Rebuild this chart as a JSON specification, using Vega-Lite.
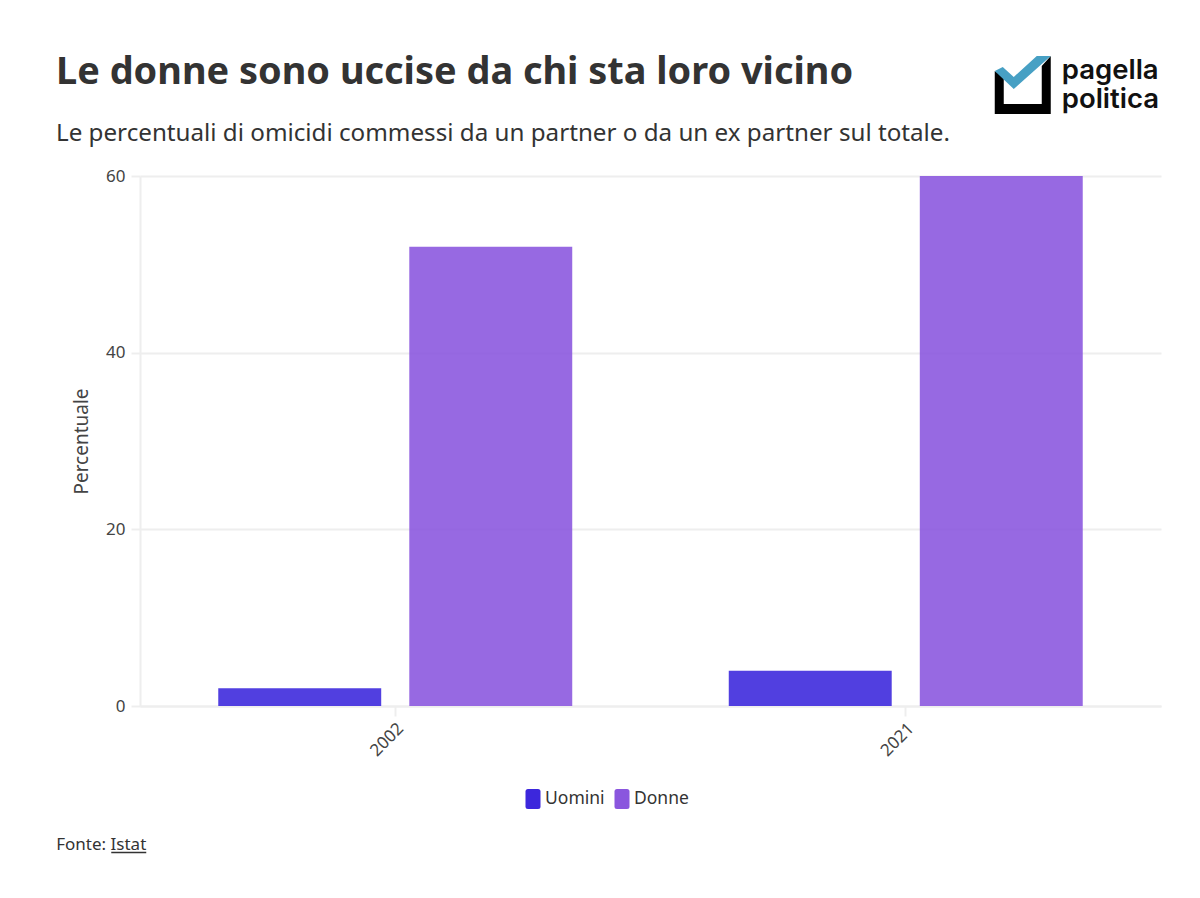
{
  "$schema": "https://vega.github.io/schema/vega-lite/v6.json",
  "width": 1021,
  "height": 530,
  "autosize": {"type": "none"},
  "padding": {"left": 140, "top": 176, "right": 39, "bottom": 192},
  "background": "white",
  "title": {
    "text": "Le donne sono uccise da chi sta loro vicino",
    "subtitle": "Le percentuali di omicidi commessi da un partner o da un ex partner sul totale.",
    "anchor": "start",
    "frame": "group",
    "dx": -84,
    "offset": -90,
    "font": "Noto Sans",
    "fontSize": 37.9,
    "fontWeight": 700,
    "color": "#333333",
    "subtitleFont": "Noto Sans",
    "subtitleFontSize": 24.2,
    "subtitleColor": "#333333",
    "subtitlePadding": 30
  },
  "config": {"view": {"stroke": null}, "font": "Noto Sans"},
  "layer": [
    {
      "data": {
        "values": [
          {"anno": "2002", "genere": "Uomini", "percentuale": 2},
          {"anno": "2002", "genere": "Donne", "percentuale": 52},
          {"anno": "2021", "genere": "Uomini", "percentuale": 4},
          {"anno": "2021", "genere": "Donne", "percentuale": 60}
        ]
      },
      "mark": {"type": "bar", "opacity": 0.89},
      "encoding": {
        "x": {
          "field": "anno",
          "type": "ordinal",
          "scale": {"paddingInner": 0.3066, "paddingOuter": 0.1533},
          "axis": {
            "title": null,
            "labelAngle": -45,
            "labelFontSize": 17,
            "labelColor": "#444444",
            "labelPadding": 4,
            "tickColor": "#eeeeee",
            "tickWidth": 2,
            "tickSize": 10,
            "domainColor": "#eeeeee",
            "domainWidth": 2
          }
        },
        "xOffset": {
          "field": "genere",
          "sort": ["Uomini", "Donne"],
          "scale": {"paddingInner": 0.147}
        },
        "y": {
          "field": "percentuale",
          "type": "quantitative",
          "scale": {"domain": [0, 60]},
          "axis": {
            "title": "Percentuale",
            "values": [0, 20, 40, 60],
            "titleFontSize": 19,
            "titleFontWeight": 400,
            "titleColor": "#444444",
            "titlePadding": 14,
            "labelFontSize": 17,
            "labelColor": "#444444",
            "labelPadding": 6,
            "tickColor": "#eeeeee",
            "tickWidth": 2,
            "tickSize": 9,
            "domainColor": "#eeeeee",
            "domainWidth": 2,
            "gridColor": "#eeeeee",
            "gridWidth": 2
          }
        },
        "color": {
          "field": "genere",
          "type": "nominal",
          "scale": {"domain": ["Uomini", "Donne"], "range": ["#3c27dc", "#8a56de"]},
          "legend": {
            "title": null,
            "orient": "none",
            "direction": "horizontal",
            "legendX": 383,
            "legendY": 613,
            "labelFontSize": 17.5,
            "labelColor": "#333333",
            "labelOffset": 2,
            "columnPadding": 7,
            "symbolOpacity": 1,
            "symbolStrokeWidth": 0,
            "symbolSize": 400,
            "symbolType": "M-0.5,-1H0.5Q0.75,-1 0.75,-0.75V0.75Q0.75,1 0.5,1H-0.5Q-0.75,1 -0.75,0.75V-0.75Q-0.75,-1 -0.5,-1Z"
          }
        }
      }
    },
    {
      "data": {"values": [{"parte": "riquadro"}]},
      "mark": {
        "type": "point",
        "filled": true,
        "opacity": 1,
        "size": 4,
        "strokeWidth": 0,
        "color": "#000000",
        "shape": "M89,-105L98,-99L98,-72L136,-72L136,-110L145,-120L145,-62L89,-62Z"
      },
      "encoding": {"x": {"datum": "2021", "type": "ordinal"}, "y": {"datum": 60, "type": "quantitative"}}
    },
    {
      "data": {"values": [{"parte": "spunta"}]},
      "mark": {
        "type": "point",
        "filled": true,
        "opacity": 1,
        "size": 4,
        "strokeWidth": 0,
        "color": "#47a0c4",
        "shape": "M89,-105L97,-109L108,-99L131,-120L145,-120L108,-87Z"
      },
      "encoding": {"x": {"datum": "2021", "type": "ordinal"}, "y": {"datum": 60, "type": "quantitative"}}
    },
    {
      "data": {"values": [{"riga": "pagella", "pos": 60}]},
      "mark": {"type": "text", "font": "Inter", "fontSize": 27.5, "fontWeight": 600, "color": "#111111", "align": "left", "baseline": "alphabetic", "dx": 156, "dy": -97},
      "encoding": {"x": {"datum": "2021", "type": "ordinal"}, "y": {"field": "pos", "type": "quantitative"}, "text": {"field": "riga"}}
    },
    {
      "data": {"values": [{"riga": "politica", "pos": 60}]},
      "mark": {"type": "text", "font": "Inter", "fontSize": 27.5, "fontWeight": 600, "color": "#111111", "align": "left", "baseline": "alphabetic", "dx": 156, "dy": -68},
      "encoding": {"x": {"datum": "2021", "type": "ordinal"}, "y": {"field": "pos", "type": "quantitative"}, "text": {"field": "riga"}}
    },
    {
      "data": {"values": [{"riga": "Fonte: Istat", "pos": 0}]},
      "mark": {"type": "text", "fontSize": 17, "color": "#333333", "align": "left", "baseline": "alphabetic", "dx": -339, "dy": 144},
      "encoding": {"x": {"datum": "2002", "type": "ordinal"}, "y": {"field": "pos", "type": "quantitative"}, "text": {"field": "riga"}}
    },
    {
      "data": {"values": [{"parte": "sottolineatura"}]},
      "mark": {
        "type": "point",
        "filled": false,
        "opacity": 1,
        "size": 4,
        "strokeWidth": 1.3,
        "color": "#333333",
        "shape": "M-284,146.5L-249,146.5"
      },
      "encoding": {"x": {"datum": "2002", "type": "ordinal"}, "y": {"datum": 0, "type": "quantitative"}}
    }
  ]
}
